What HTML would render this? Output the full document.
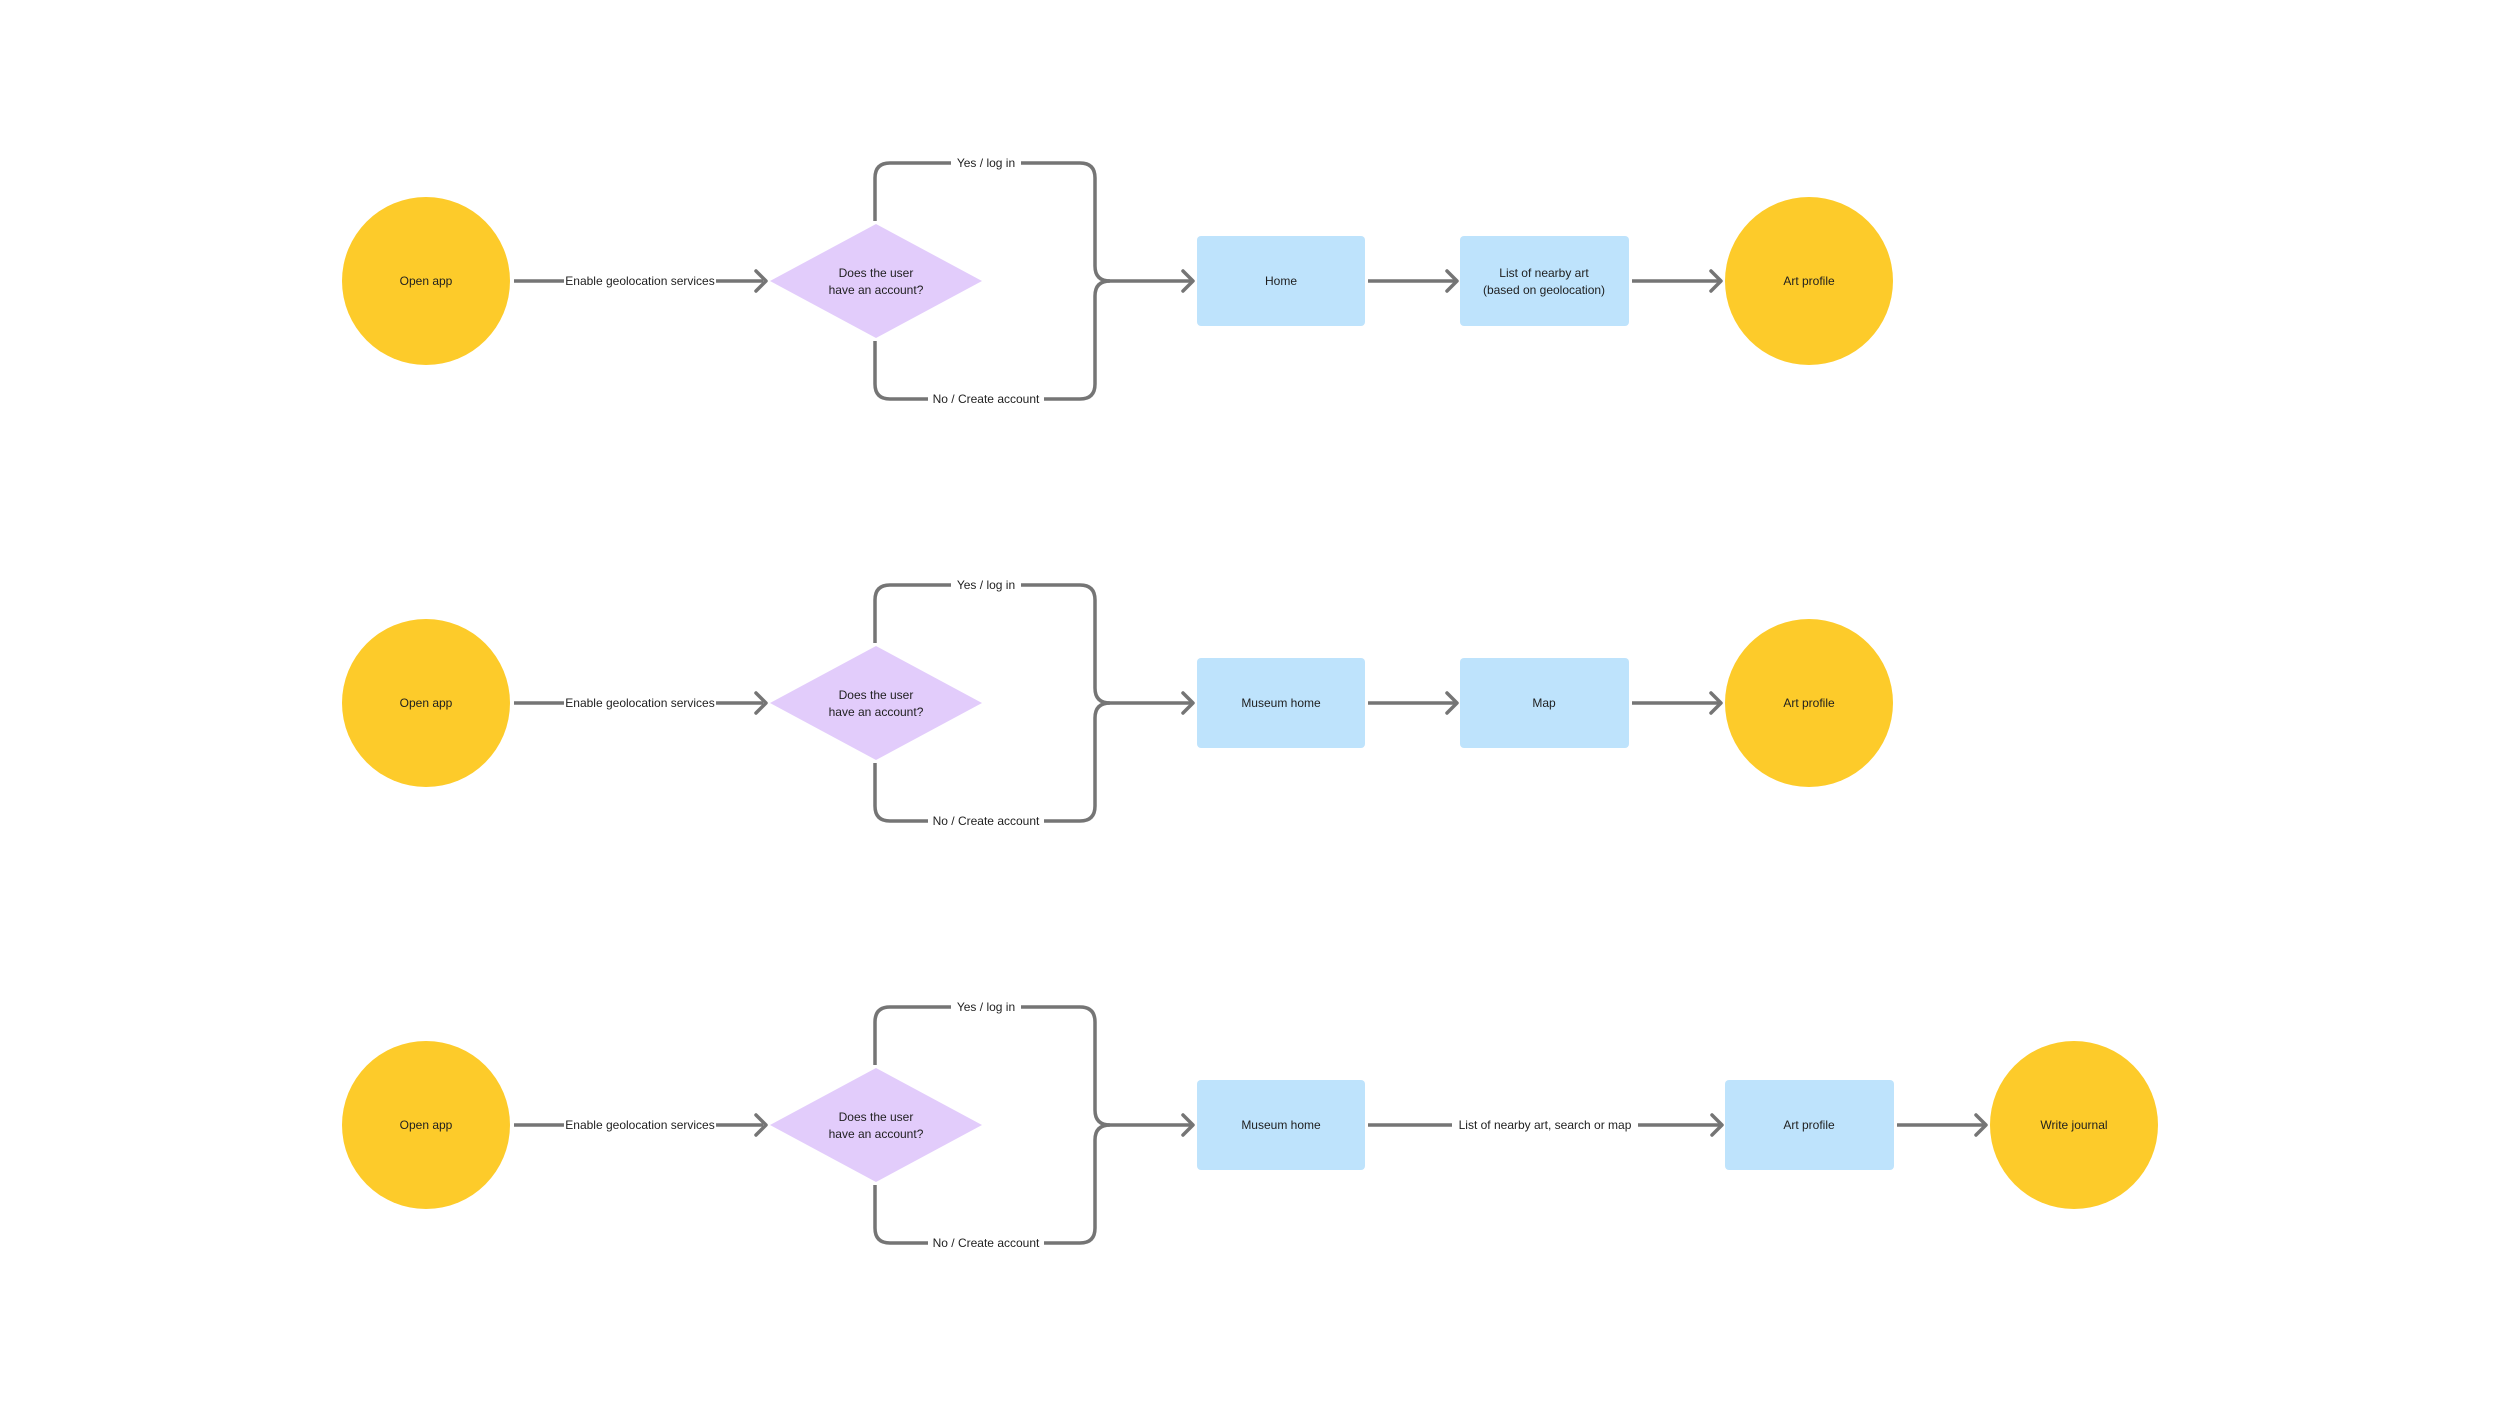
<!DOCTYPE html>
<html><head><meta charset="utf-8"><style>
html,body{margin:0;padding:0;background:#fff;}
svg{display:block;}
text{font-family:"Liberation Sans",sans-serif;font-size:12px;fill:#1f1f1f;}
</style></head><body>
<svg width="2500" height="1406" viewBox="0 0 2500 1406" xmlns="http://www.w3.org/2000/svg">
<defs>
<g id="front">
  <circle cx="426" cy="0" r="84" fill="#FDCB2A"/>
  <text x="426" y="4" text-anchor="middle">Open app</text>
  <path d="M514 0 H763" stroke="#757575" stroke-width="3.5" fill="none"/>
  <path d="M756 -10 L766 0 L756 10" stroke="#757575" stroke-width="3.5" fill="none" stroke-linecap="round" stroke-linejoin="round"/>
  <rect x="564" y="-9" width="152" height="18" fill="#fff"/>
  <text x="640" y="4" text-anchor="middle">Enable geolocation services</text>
  <path d="M876 -57 L982 0 L876 57 L770 0 Z" fill="#E2CCFB"/>
  <text x="876" y="-4" text-anchor="middle">Does the user</text>
  <text x="876" y="13" text-anchor="middle">have an account?</text>
  <path d="M875 -60 V-103 Q875 -118 890 -118 H1080 Q1095 -118 1095 -103 V-15 Q1095 0 1110 0 Q1095 0 1095 15 V103 Q1095 118 1080 118 H890 Q875 118 875 103 V60" stroke="#757575" stroke-width="3.5" fill="none"/>
  <path d="M1108 0 H1191" stroke="#757575" stroke-width="3.5" fill="none"/>
  <path d="M1183 -10 L1193 0 L1183 10" stroke="#757575" stroke-width="3.5" fill="none" stroke-linecap="round" stroke-linejoin="round"/>
  <rect x="951" y="-127" width="70" height="18" fill="#fff"/>
  <text x="986" y="-114" text-anchor="middle">Yes / log in</text>
  <rect x="928" y="109" width="116" height="18" fill="#fff"/>
  <text x="986" y="122" text-anchor="middle">No / Create account</text>
</g>
<g id="arr"><path d="M0 0 H87" stroke="#757575" stroke-width="3.5" fill="none"/><path d="M79 -10 L89 0 L79 10" stroke="#757575" stroke-width="3.5" fill="none" stroke-linecap="round" stroke-linejoin="round"/></g>
</defs>

<!-- Row 1 -->
<g transform="translate(0,281)">
  <use href="#front"/>
  <rect x="1197" y="-45" width="168" height="90" rx="4" fill="#BEE3FC"/>
  <text x="1281" y="4" text-anchor="middle">Home</text>
  <use href="#arr" x="1368"/>
  <rect x="1460" y="-45" width="169" height="90" rx="4" fill="#BEE3FC"/>
  <text x="1544" y="-4" text-anchor="middle">List of nearby art</text>
  <text x="1544" y="13" text-anchor="middle">(based on geolocation)</text>
  <use href="#arr" x="1632"/>
  <circle cx="1809" cy="0" r="84" fill="#FDCB2A"/>
  <text x="1809" y="4" text-anchor="middle">Art profile</text>
</g>

<!-- Row 2 -->
<g transform="translate(0,703)">
  <use href="#front"/>
  <rect x="1197" y="-45" width="168" height="90" rx="4" fill="#BEE3FC"/>
  <text x="1281" y="4" text-anchor="middle">Museum home</text>
  <use href="#arr" x="1368"/>
  <rect x="1460" y="-45" width="169" height="90" rx="4" fill="#BEE3FC"/>
  <text x="1544" y="4" text-anchor="middle">Map</text>
  <use href="#arr" x="1632"/>
  <circle cx="1809" cy="0" r="84" fill="#FDCB2A"/>
  <text x="1809" y="4" text-anchor="middle">Art profile</text>
</g>

<!-- Row 3 -->
<g transform="translate(0,1125)">
  <use href="#front"/>
  <rect x="1197" y="-45" width="168" height="90" rx="4" fill="#BEE3FC"/>
  <text x="1281" y="4" text-anchor="middle">Museum home</text>
  <path d="M1368 0 H1720" stroke="#757575" stroke-width="3.5" fill="none"/>
  <path d="M1712 -10 L1722 0 L1712 10" stroke="#757575" stroke-width="3.5" fill="none" stroke-linecap="round" stroke-linejoin="round"/>
  <rect x="1452" y="-9" width="186" height="18" fill="#fff"/>
  <text x="1545" y="4" text-anchor="middle">List of nearby art, search or map</text>
  <rect x="1725" y="-45" width="169" height="90" rx="4" fill="#BEE3FC"/>
  <text x="1809" y="4" text-anchor="middle">Art profile</text>
  <use href="#arr" x="1897"/>
  <circle cx="2074" cy="0" r="84" fill="#FDCB2A"/>
  <text x="2074" y="4" text-anchor="middle">Write journal</text>
</g>
</svg>
</body></html>
